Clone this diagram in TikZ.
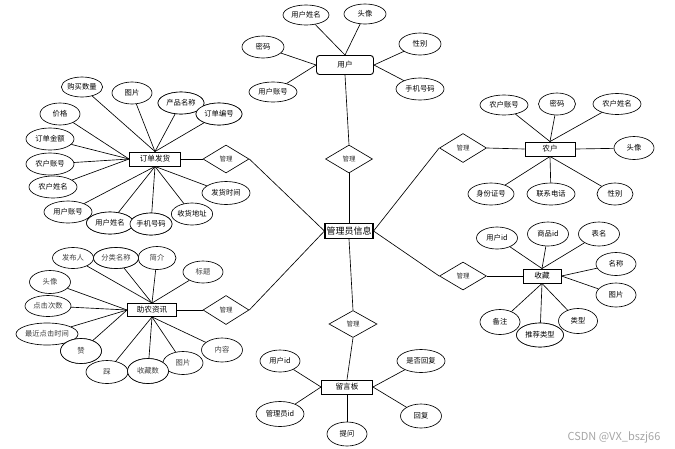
\documentclass[tikz,border=0pt]{standalone}
\usepackage{fontspec}
\newfontfamily\cjk{Noto Sans CJK SC}
\usetikzlibrary{shapes.geometric}
\tikzset{
  attr/.style 2 args={ellipse, draw, line width=0.65pt, fill=white, inner sep=0pt,
    minimum width=#1pt, minimum height=#2pt, font=\cjk\fontsize{7.3}{8}\selectfont},
  gattr/.style 2 args={attr={#1}{#2}, text=black!75},
  ent/.style 2 args={rectangle, draw, line width=0.9pt, fill=white, inner sep=1pt,
    minimum width=#1pt, minimum height=#2pt, font=\cjk\fontsize{7.6}{8}\selectfont},
  rel/.style 2 args={diamond, draw, line width=0.65pt, fill=white, inner sep=0pt,
    minimum width=#1pt, minimum height=#2pt, font=\cjk\fontsize{6.5}{7}\selectfont, text=black!80},
  link/.style={line width=0.65pt}
}
\begin{document}
\begin{tikzpicture}[x=1pt,y=-1pt]
\useasboundingbox (0,0) rectangle (675,448);
% central
\node[ent={48}{15}, line width=1.1pt, font=\cjk\fontsize{9}{10}\selectfont] (c) at (349,231) {管理员信息};
% entities
\node[ent={57}{19}, rounded corners=3pt] (u) at (345,65) {用户};
\node[ent={51}{14}] (o) at (155,159) {订单发货};
\node[ent={50}{14}] (f) at (550,149) {农户};
\node[ent={38}{14}] (s) at (542,276) {收藏};
\node[ent={49}{13}] (z) at (152,310) {助农资讯};
\node[ent={51}{14}] (l) at (347,387) {留言板};
% relations
\node[rel={47}{28}] (d1) at (349,159) {管理};
\node[rel={46}{28}] (d2) at (226,159) {管理};
\node[rel={47}{29}] (d3) at (463,148) {管理};
\node[rel={47}{28}] (d4) at (463,276) {管理};
\node[rel={46}{29}] (d5) at (226,310) {管理};
\node[rel={48}{27}] (d6) at (353,324) {管理};
\draw[link] (u.south) -- (d1.north);
\draw[link] (d1.south) -- (c.north);
\draw[link] (o.east) -- (d2.west);
\draw[link] (d2.east) -- (c.west);
\draw[link] (c.east) -- (d3.west);
\draw[link] (d3.east) -- (f.west);
\draw[link] (c.east) -- (d4.west);
\draw[link] (d4.east) -- (s.west);
\draw[link] (z.east) -- (d5.west);
\draw[link] (d5.east) -- (c.west);
\draw[link] (c.south) -- (d6.north);
\draw[link] (d6.south) -- (l.north);
% user attributes
\node[attr={46}{20}] (u1) at (306,15) {用户姓名};
\node[attr={42}{20}] (u2) at (365,14) {头像};
\node[attr={42}{22}] (u3) at (263,47) {密码};
\node[attr={42}{22}] (u4) at (420,44) {性别};
\node[attr={48}{20}] (u5) at (273,92) {用户账号};
\node[attr={48}{22}] (u6) at (420,89) {手机号码};
\foreach \a in {u1,u2} \draw[link] (u.north) -- (\a);
\foreach \a in {u3,u5} \draw[link] (u.west) -- (\a);
\foreach \a in {u4,u6} \draw[link] (u.east) -- (\a);
% order attributes
\node[attr={40}{20}] (o1) at (82,87) {购买数量};
\node[attr={40}{22}] (o2) at (132,93) {图片};
\node[attr={46}{22}] (o3) at (181,103) {产品名称};
\node[attr={46}{22}] (o4) at (219,114) {订单编号};
\node[attr={40}{22}] (o5) at (60,114) {价格};
\node[attr={48}{22}] (o6) at (50,139) {订单金额};
\node[attr={48}{22}] (o7) at (50,164) {农户账号};
\node[attr={48}{22}] (o8) at (53,187) {农户姓名};
\node[attr={48}{22}] (o9) at (68,212) {用户账号};
\node[attr={47}{22}] (o10) at (110,223) {用户姓名};
\node[attr={42}{22}] (o11) at (151,224) {手机号码};
\node[attr={40}{22}] (o12) at (192,214) {收货地址};
\node[attr={48}{23}] (o13) at (226,193) {发货时间};
\foreach \a in {o1,o2,o3,o4} \draw[link] (o.north) -- (\a);
\foreach \a in {o5,o6,o7,o8} \draw[link] (o.west) -- (\a);
\foreach \a in {o9,o10,o11,o12,o13} \draw[link] (o.south) -- (\a);
% redraw overlapping ellipses on top
\node[attr={46}{22}] at (181,103) {产品名称};
\node[attr={46}{22}] at (219,114) {订单编号};
\node[attr={47}{22}] at (110,223) {用户姓名};
\node[attr={42}{22}] at (151,224) {手机号码};
% farmer attributes
\node[attr={48}{20}] (f1) at (504,105) {农户账号};
\node[attr={37}{22}] (f2) at (557,104) {密码};
\node[attr={48}{21}] (f3) at (617,104) {农户姓名};
\node[attr={40}{23}] (f4) at (634,148) {头像};
\node[attr={46}{22}] (f5) at (491,194) {身份证号};
\node[attr={48}{22}] (f6) at (551,194) {联系电话};
\node[attr={36}{22}] (f7) at (615,194) {性别};
\foreach \a in {f1,f2,f3} \draw[link] (f.north) -- (\a);
\draw[link] (f.east) -- (f4);
\foreach \a in {f5,f6,f7} \draw[link] (f.south) -- (\a);
% collection attributes
\node[attr={41}{22}] (s1) at (497,238) {用户id};
\node[attr={41}{24}] (s2) at (548,234) {商品id};
\node[attr={41}{24}] (s3) at (599,234) {表名};
\node[attr={40}{23}] (s4) at (616,264) {名称};
\node[attr={40}{24}] (s5) at (616,295) {图片};
\node[attr={40}{25}] (s6) at (500,322) {备注};
\node[attr={39}{25}] (s8) at (578,321) {类型};
\foreach \a in {s1,s2,s3} \draw[link] (s.north) -- (\a);
\foreach \a in {s4,s5} \draw[link] (s.east) -- (\a);
\node[attr={47}{24}] (s7) at (540,335) {推荐类型};
\foreach \a in {s6,s7,s8} \draw[link] (s.south) -- (\a);
\node[attr={47}{24}] at (540,335) {推荐类型};
% news attributes
\node[gattr={41}{21}] (z1) at (73,258) {发布人};
\node[gattr={45}{21}] (z2) at (116,258) {分类名称};
\node[gattr={38}{23}] (z3) at (157,258) {简介};
\node[gattr={40}{22}] (z4) at (203,272) {标题};
\node[gattr={41}{23}] (z5) at (50,282) {头像};
\node[gattr={46}{21}] (z6) at (48,306) {点击次数};
\node[gattr={62}{22}] (z7) at (47,334) {最近点击时间};
\node[gattr={41}{25}] (z8) at (81,351) {赞};
\node[gattr={42}{23}] (z9) at (107,372) {踩};
\node[gattr={41}{25}] (z10) at (148,371) {收藏数};
\node[gattr={40}{23}] (z11) at (183,363) {图片};
\node[gattr={41}{24}] (z12) at (222,350) {内容};
\foreach \a in {z1,z2,z3,z4} \draw[link] (z.north) -- (\a);
\foreach \a in {z5,z6,z7,z8} \draw[link] (z.west) -- (\a);
\foreach \a in {z9,z10,z11,z12} \draw[link] (z.south) -- (\a);
\node[gattr={45}{21}] at (116,258) {分类名称};
\node[gattr={41}{25}] at (81,351) {赞};
\node[gattr={41}{25}] at (148,371) {收藏数};
% message board attributes
\node[attr={40}{22}] (l1) at (280,361) {用户id};
\node[attr={48}{25}] (l2) at (280,414) {管理员id};
\node[attr={40}{24}] (l3) at (347,434) {提问};
\node[attr={48}{23}] (l4) at (421,361) {是否回复};
\node[attr={41}{24}] (l5) at (421,416) {回复};
\foreach \a in {l1,l2} \draw[link] (l.west) -- (\a);
\draw[link] (l.south) -- (l3);
\foreach \a in {l4,l5} \draw[link] (l.east) -- (\a);
% watermark
\node[font=\cjk\fontsize{11}{12}\selectfont, text=black!35] (wm) at (614,437) {CSDN @VX\_bszj66};
\end{tikzpicture}
\end{document}
